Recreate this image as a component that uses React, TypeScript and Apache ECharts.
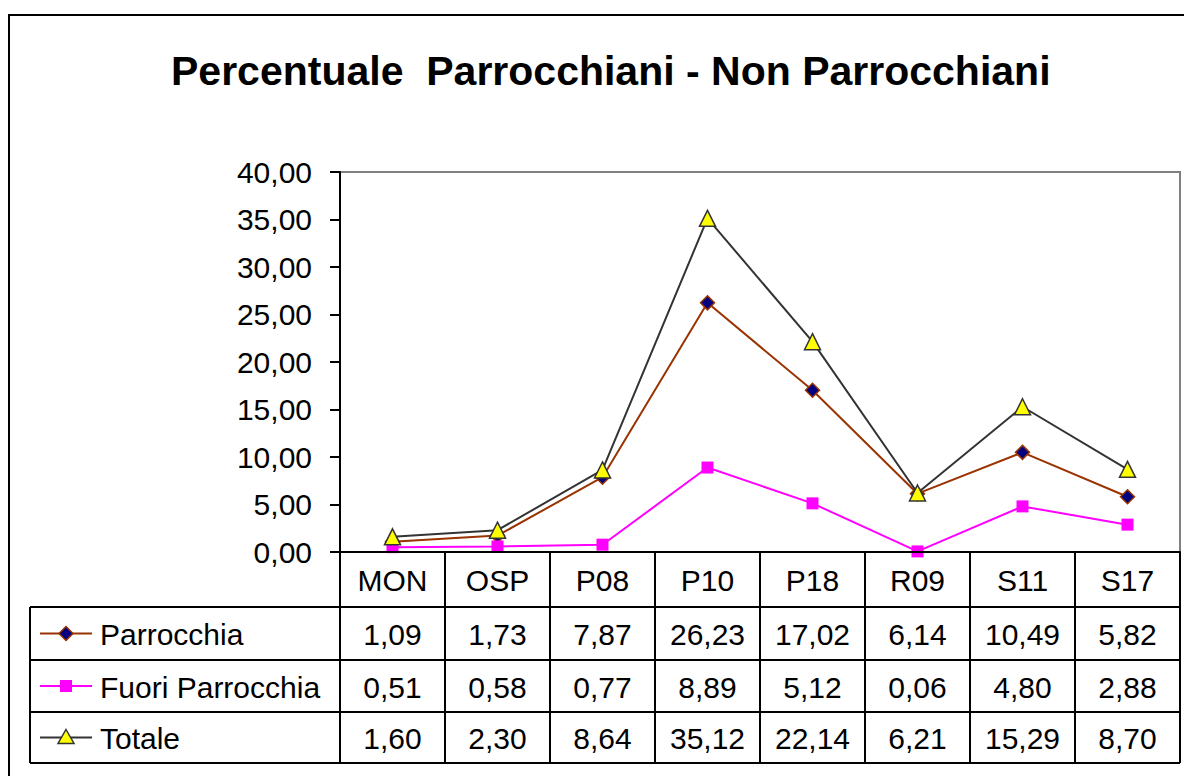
import React, { useEffect, useRef } from "react";
import * as echarts from "echarts";

const categories = ["MON", "OSP", "P08", "P10", "P18", "R09", "S11", "S17"];
const parrocchia = [1.09, 1.73, 7.87, 26.23, 17.02, 6.14, 10.49, 5.82];
const fuoriParrocchia = [0.51, 0.58, 0.77, 8.89, 5.12, 0.06, 4.8, 2.88];
const totale = [1.6, 2.3, 8.64, 35.12, 22.14, 6.21, 15.29, 8.7];
const seriesNames = ["Parrocchia", "Fuori Parrocchia", "Totale"];
const titleText = "Percentuale  Parrocchiani - Non Parrocchiani";

const W = 1184;
const H = 776;
const PLOT_L = 340;
const PLOT_R = 1180;
const PLOT_T = 172;
const PLOT_B = 552;
const TABLE_L = 30;
const ROWS_Y = [552, 607, 660, 712, 763];
const FONT = "'Liberation Sans', Arial, sans-serif";
const FS = 30;

const fmt = (v: number) => v.toFixed(2).replace(".", ",");

const styles = [
  { line: "#993300", fill: "#000080", border: "#993300", symbol: "diamond", size: 14 },
  { line: "#FF00FF", fill: "#FF00FF", border: "#FF00FF", symbol: "rect", size: 12 },
  { line: "#333333", fill: "#FFFF00", border: "#333333", symbol: "triangle", size: 16 },
];

export default function App() {
  const ref = useRef<HTMLDivElement>(null);
  useEffect(() => {
    document.body.style.margin = "0";
    if (!ref.current) return;
    const chart = echarts.init(ref.current, null, { renderer: "svg" });
    const seriesData = [parrocchia, fuoriParrocchia, totale];
    const colW = (PLOT_R - PLOT_L) / categories.length;

    const graphics: any[] = [];
    graphics.push({
      type: "rect",
      shape: { x: 9, y: 15, width: W + 20, height: H + 20 },
      style: { fill: "none", stroke: "#000", lineWidth: 2 },
      z: 10,
    });
    ROWS_Y.forEach((y, i) => {
      graphics.push({
        type: "line",
        shape: { x1: i === 0 ? PLOT_L : TABLE_L, y1: y, x2: PLOT_R, y2: y },
        style: { stroke: "#000", lineWidth: 2 },
        z: 20,
      });
    });
    for (let k = 0; k <= categories.length; k++) {
      const x = PLOT_L + k * colW;
      graphics.push({
        type: "line",
        shape: { x1: x, y1: ROWS_Y[0], x2: x, y2: ROWS_Y[4] },
        style: { stroke: "#000", lineWidth: 2 },
        z: 20,
      });
    }
    graphics.push({
      type: "line",
      shape: { x1: TABLE_L, y1: ROWS_Y[1], x2: TABLE_L, y2: ROWS_Y[4] },
      style: { stroke: "#000", lineWidth: 2 },
      z: 20,
    });
    seriesNames.forEach((name, r) => {
      const cy = (ROWS_Y[r + 1] + ROWS_Y[r + 2]) / 2;
      const st = styles[r];
      graphics.push({
        type: "line",
        shape: { x1: 40, y1: cy, x2: 92, y2: cy },
        style: { stroke: st.line, lineWidth: 2 },
        z: 21,
      });
      const mx = 66;
      if (st.symbol === "diamond") {
        graphics.push({
          type: "polygon",
          shape: { points: [[mx, cy - 7], [mx + 7, cy], [mx, cy + 7], [mx - 7, cy]] },
          style: { fill: st.fill, stroke: st.border, lineWidth: 1.5 },
          z: 22,
        });
      } else if (st.symbol === "rect") {
        graphics.push({
          type: "rect",
          shape: { x: mx - 6, y: cy - 6, width: 12, height: 12 },
          style: { fill: st.fill },
          z: 22,
        });
      } else {
        graphics.push({
          type: "polygon",
          shape: { points: [[mx, cy - 8], [mx + 8, cy + 6], [mx - 8, cy + 6]] },
          style: { fill: st.fill, stroke: st.border, lineWidth: 1.5 },
          z: 22,
        });
      }
      graphics.push({
        type: "text",
        x: 100,
        y: cy + 1,
        style: {
          text: name,
          font: `${FS}px ${FONT}`,
          fill: "#000",
          textVerticalAlign: "middle",
          textAlign: "left",
        },
        z: 22,
      });
      seriesData[r].forEach((v, k) => {
        graphics.push({
          type: "text",
          x: PLOT_L + (k + 0.5) * colW,
          y: cy + 1,
          style: {
            text: fmt(v),
            font: `${FS}px ${FONT}`,
            fill: "#000",
            textVerticalAlign: "middle",
            textAlign: "center",
          },
          z: 22,
        });
      });
    });

    chart.setOption({
      animation: false,
      backgroundColor: "#fff",
      title: {
        text: titleText,
        left: 166,
        top: 45,
        textStyle: { fontFamily: FONT, fontWeight: "bold", fontSize: 41, color: "#000" },
      },
      grid: {
        left: PLOT_L,
        right: W - PLOT_R,
        top: PLOT_T,
        bottom: H - PLOT_B,
        show: true,
        borderColor: "#808080",
        borderWidth: 2,
        backgroundColor: "#fff",
      },
      xAxis: {
        type: "category",
        data: categories,
        boundaryGap: true,
        axisLine: { lineStyle: { color: "#000", width: 2 } },
        axisTick: { show: false },
        axisLabel: {
          margin: 13,
          fontFamily: FONT,
          fontSize: FS,
          color: "#000",
          interval: 0,
        },
      },
      yAxis: {
        type: "value",
        min: 0,
        max: 40,
        interval: 5,
        splitLine: { show: false },
        axisLine: { show: true, lineStyle: { color: "#000", width: 2 } },
        axisTick: { show: true, inside: false, length: 10, lineStyle: { color: "#000", width: 2 } },
        axisLabel: {
          margin: 28,
          fontFamily: FONT,
          fontSize: FS,
          color: "#000",
          formatter: (v: number) => fmt(v),
        },
      },
      series: seriesNames.map((name, i) => ({
        name,
        type: "line",
        data: seriesData[i],
        symbol: styles[i].symbol,
        symbolSize: styles[i].size,
        showSymbol: true,
        lineStyle: { color: styles[i].line, width: 2 },
        itemStyle: {
          color: styles[i].fill,
          borderColor: styles[i].border,
          borderWidth: styles[i].symbol === "rect" ? 0 : 1.5,
        },
        z: 2 + i,
      })),
      graphic: graphics,
    });
    return () => chart.dispose();
  }, []);
  return <div ref={ref} style={{ width: W, height: H }} />;
}
